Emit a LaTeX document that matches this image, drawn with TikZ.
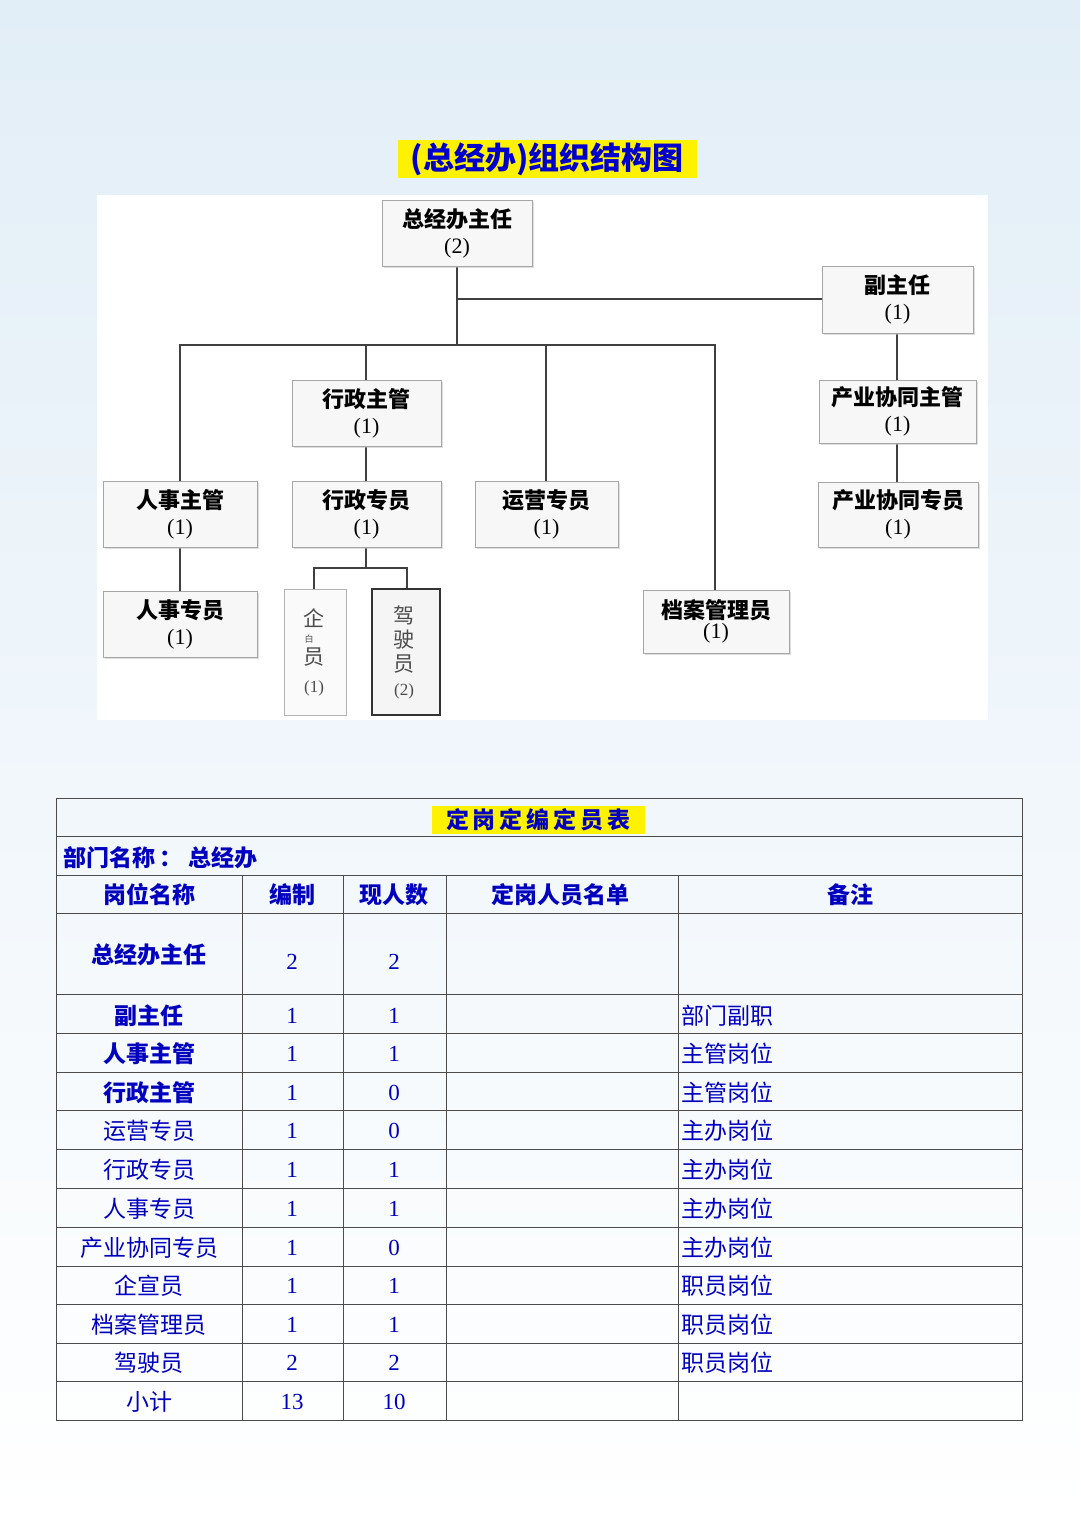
\documentclass[tikz,border=0pt]{standalone}
\usepackage{fontspec}
\usetikzlibrary{shadows}
\setmainfont{Liberation Serif}
\newfontfamily\cjk{Noto Sans CJK SC}
\newcommand\cjkb{\cjk\bfseries}
\newcommand\nm[1]{{\rmfamily\mdseries #1}}
\begin{document}
\begin{tikzpicture}[x=1pt,y=-1pt,
  bx/.style={draw=gray!70,fill=gray!6,line width=0.8pt,drop shadow={shadow xshift=2pt,shadow yshift=-2pt,fill=gray!50}},
  ln/.style={draw=black!75,line width=1.2pt},
  lb/.style={font=\cjkb\fontsize{22}{25}\selectfont,align=center,text=black},
  tl/.style={draw=black!70,line width=0.8pt},
  tt/.style={text=blue!75!black,font=\cjk\fontsize{23}{25}\selectfont},
  tb/.style={text=blue!75!black,font=\cjkb\fontsize{23}{25}\selectfont},
  tn/.style={text=blue!75!black,font=\fontsize{23}{25}\selectfont}]
\useasboundingbox (0,0) rectangle (1080,1523);
\shade[top color={rgb,255:red,226;green,238;blue,247},bottom color=white] (0,0) rectangle (1080,1523);
\fill[white] (97,195) rectangle (988,720);
% title
\fill[yellow] (398,140) rectangle (697,178);
\node[text=blue!80!black,font=\cjkb\fontsize{31}{34}\selectfont] (title) at (547,159) {(总经办)组织结构图};
% connectors
\draw[ln] (457,266) -- (457,345);
\draw[ln] (457,299) -- (822,299);
\draw[ln] (180,481) -- (180,345) -- (715,345) -- (715,590);
\draw[ln] (366,345) -- (366,380);
\draw[ln] (546,345) -- (546,481);
\draw[ln] (366,446) -- (366,481);
\draw[ln] (366,547) -- (366,568);
\draw[ln] (314,589) -- (314,568) -- (407,568) -- (407,589);
\draw[ln] (180,547) -- (180,591);
\draw[ln] (897,333) -- (897,380);
\draw[ln] (897,443) -- (897,482);
% boxes
\newcommand\obox[6]{\draw[bx] (#1,#2) rectangle (#3,#4); \node[lb] (#5) at ({(#1+#3)/2},{(#2+#4)/2}) {#6};}
\obox{382}{200}{532}{266}{zr}{总经办主任\\[1pt]\nm{(2)}}
\obox{822}{266}{973}{333}{fzr}{副主任\\[1pt]\nm{(1)}}
\obox{292}{380}{441}{446}{xzzg}{行政主管\\[1pt]\nm{(1)}}
\obox{103}{481}{257}{547}{rszg}{人事主管\\[1pt]\nm{(1)}}
\obox{292}{481}{441}{547}{xzzy}{行政专员\\[1pt]\nm{(1)}}
\obox{475}{481}{618}{547}{yyzy}{运营专员\\[1pt]\nm{(1)}}
\obox{819}{380}{976}{443}{cyzg}{产业协同主管\\[1pt]\nm{(1)}}
\obox{818}{482}{978}{547}{cyzy}{产业协同专员\\[1pt]\nm{(1)}}
\obox{103}{591}{257}{657}{rszy}{人事专员\\[1pt]\nm{(1)}}
\obox{643}{590}{789}{653}{dagl}{档案管理员\\[-5pt]\nm{(1)}}
\draw[draw=gray!60,fill=gray!4,line width=0.8pt] (284,589) rectangle (346,715);
\node[font=\cjk\fontsize{21}{24}\selectfont,text=black!70,align=center] (qxy) at (314,652) {企\\[-8pt]{\fontsize{9}{10}\selectfont\hspace*{-10pt}白}\\[-2pt]员\\[4pt]{\rmfamily\fontsize{17}{20}\selectfont(1)}};
\draw[draw=black!80,fill=gray!8,line width=1.4pt] (372,589) rectangle (440,715);
\node[font=\cjk\fontsize{21}{24}\selectfont,text=black!70,align=center] (jsy) at (404,652) {驾\\[0pt]驶\\[0pt]员\\[0pt]{\rmfamily\fontsize{17}{20}\selectfont(2)}};
% table
\fill[yellow] (432,806) rectangle (645,834);
\node[tb] (ttl) at (538,820) {定\,岗\,定\,编\,定\,员\,表};
\node[tb,anchor=west] (dept) at (60,858) {部门名称\,：\;总经办};
\draw[tl] (56,798) rectangle (1022,1420);
\foreach \y in {836,875,913,994,1033,1072,1110,1149,1188,1227,1266,1304,1343,1381} \draw[tl] (56,\y) -- (1022,\y);
\foreach \x in {242,343,446,678} \draw[tl] (\x,875) -- (\x,1420);
\node[tb] (h1) at (149,895) {岗位名称};
\node[tb] (h2) at (292,895) {编制};
\node[tb] (h3) at (394,895) {现人数};
\node[tb] (h4) at (560,895) {定岗人员名单};
\node[tb] (h5) at (850,895) {备注};
\node[tb] (r0) at (149,955) {总经办主任};
\node[tn] (r0b) at (292,962) {2};
\node[tn] (r0c) at (394,962) {2};
\newcommand\trow[6]{\node[#2] at (149,#1) {#3}; \node[tn] at (292,#1) {#4}; \node[tn] at (394,#1) {#5}; \node[tt,anchor=west] at (678,#1) {#6};}
\trow{1016}{tb}{副主任}{1}{1}{部门副职}
\trow{1054}{tb}{人事主管}{1}{1}{主管岗位}
\trow{1093}{tb}{行政主管}{1}{0}{主管岗位}
\trow{1131}{tt}{运营专员}{1}{0}{主办岗位}
\trow{1170}{tt}{行政专员}{1}{1}{主办岗位}
\trow{1209}{tt}{人事专员}{1}{1}{主办岗位}
\trow{1248}{tt}{产业协同专员}{1}{0}{主办岗位}
\trow{1286}{tt}{企宣员}{1}{1}{职员岗位}
\trow{1325}{tt}{档案管理员}{1}{1}{职员岗位}
\trow{1363}{tt}{驾驶员}{2}{2}{职员岗位}
\trow{1402}{tt}{小计}{13}{10}{}
\end{tikzpicture}
\end{document}
